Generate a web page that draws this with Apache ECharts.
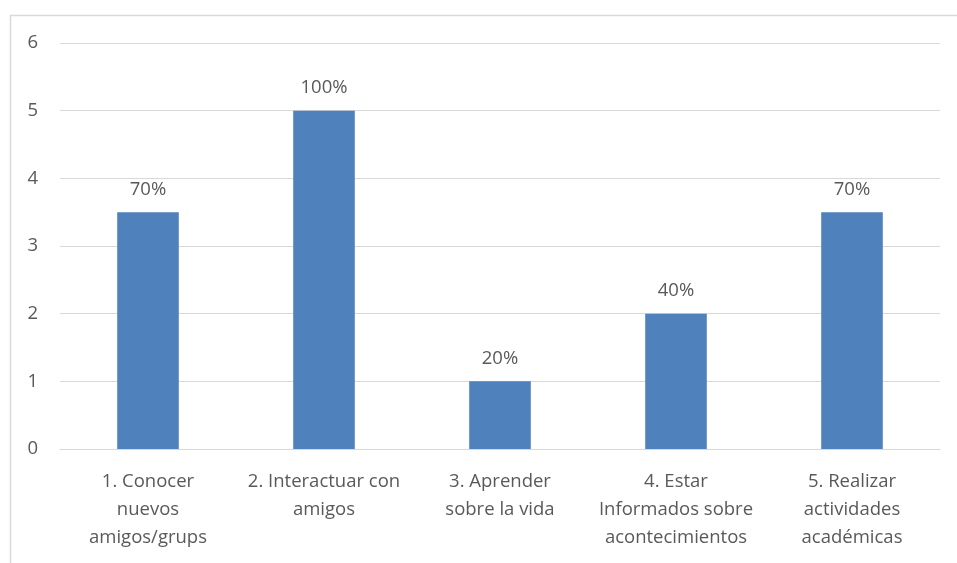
<!DOCTYPE html>
<html>
<head>
<meta charset="utf-8">
<script src="https://cdn.jsdelivr.net/npm/echarts@6/dist/echarts.min.js"></script>
<style>
  html, body { margin: 0; padding: 0; background: #fff; }
  #chart { width: 957px; height: 563px; }
</style>
</head>
<body>
<div id="chart"></div>
<script>
  // categorías y valores
  const categories = [
    '1. Conocer\nnuevos\namigos/grups',
    '2. Interactuar con\namigos',
    '3. Aprender\nsobre la vida',
    '4. Estar\nInformados sobre\nacontecimientos',
    '5. Realizar\nactividades\nacadémicas'
  ];
  const values = [3.5, 5, 1, 2, 3.5];
  const percentLabels = ['70%', '100%', '20%', '40%', '70%'];
  const yTicks = [0, 1, 2, 3, 4, 5, 6];

  const font = 'Open Sans';
  const textColor = '#595959';

  const chart = echarts.init(document.getElementById('chart'));
  chart.setOption({
    animation: false,
    textStyle: { fontFamily: font },
    graphic: [{
      type: 'rect',
      left: 8, top: 13,
      shape: { width: 1000, height: 600 },
      style: { fill: 'none', stroke: '#d9d9d9', lineWidth: 1.5 },
      silent: true
    }],
    grid: { left: 60, right: 17, top: 43, bottom: 114 },
    xAxis: {
      type: 'category',
      data: categories,
      axisTick: { show: false },
      axisLine: { lineStyle: { color: '#d9d9d9', width: 1 } },
      axisLabel: {
        color: textColor, fontSize: 18.5, lineHeight: 28, margin: 19,
        fontFamily: font, interval: 0
      }
    },
    yAxis: {
      type: 'value',
      min: yTicks[0], max: yTicks[yTicks.length - 1], interval: 1,
      axisLine: { show: false },
      axisTick: { show: false },
      splitLine: { lineStyle: { color: '#d9d9d9', width: 1 } },
      axisLabel: { color: textColor, fontSize: 18.5, margin: 22, fontFamily: font }
    },
    series: [{
      type: 'bar',
      data: values,
      barWidth: '35%',
      itemStyle: { color: '#4F81BD' },
      label: {
        show: true,
        position: 'top',
        distance: 13,
        color: textColor,
        fontSize: 18.5,
        fontFamily: font,
        formatter: p => percentLabels[p.dataIndex]
      }
    }]
  });
</script>
</body>
</html>
